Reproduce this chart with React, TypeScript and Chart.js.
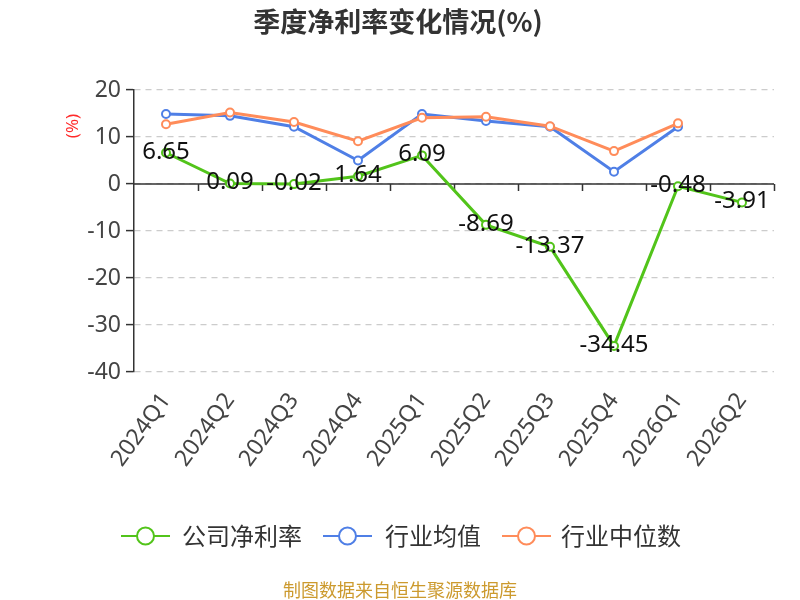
import React, { useEffect, useRef } from 'react';
import { Chart, registerables } from 'chart.js';

Chart.register(...registerables);

const categories = ['2024Q1', '2024Q2', '2024Q3', '2024Q4', '2025Q1', '2025Q2', '2025Q3', '2025Q4', '2026Q1', '2026Q2'];
const companyNetMargin = [6.65, 0.09, -0.02, 1.64, 6.09, -8.69, -13.37, -34.45, -0.48, -3.91];
const industryAverage = [14.9, 14.5, 12.2, 5.0, 14.9, 13.4, 12.2, 2.6, 12.2, null];
const industryMedian = [12.7, 15.2, 13.2, 9.1, 14.1, 14.3, 12.3, 7.0, 12.9, null];
const seriesNames = ['公司净利率', '行业均值', '行业中位数'];
const seriesColors = ['#52c41a', '#4f7fe6', '#ff8c5a'];
const titleText = '季度净利率变化情况(%)';
const footerText = '制图数据来自恒生聚源数据库';
const yUnit = '(%)';

const FONT = "'Noto Sans', 'Noto Sans CJK SC', sans-serif";
const CJK = "'Noto Sans CJK SC', 'Noto Sans', sans-serif";

const overlay = {
  id: 'overlay',
  beforeDatasetsDraw(chart: any) {
    const { ctx, chartArea, scales } = chart;
    const y0 = scales.y.getPixelForValue(0);
    ctx.save();
    ctx.strokeStyle = '#333';
    ctx.lineWidth = 1.5;
    ctx.beginPath();
    ctx.moveTo(chartArea.left, y0);
    ctx.lineTo(chartArea.right, y0);
    const n = categories.length;
    const step = (chartArea.right - chartArea.left) / n;
    for (let i = 1; i <= n; i++) {
      const x = Math.round(chartArea.left + step * i) + 0.5;
      ctx.moveTo(x, y0);
      ctx.lineTo(x, y0 + 7);
    }
    ctx.stroke();
    ctx.restore();
  },
  afterDatasetsDraw(chart: any) {
    const { ctx } = chart;
    const meta = chart.getDatasetMeta(0);
    ctx.save();
    ctx.font = `24px ${FONT}`;
    ctx.fillStyle = '#111';
    ctx.textBaseline = 'middle';
    ctx.textAlign = 'center';
    meta.data.forEach((pt: any, i: number) => {
      const label = companyNetMargin[i].toFixed(2);
      ctx.fillText(label, pt.x, pt.y - 1);
    });
    ctx.restore();
  },
  afterDraw(chart: any) {
    const { ctx } = chart;
    ctx.save();
    // title
    ctx.font = `bold 27px ${CJK}`;
    ctx.fillStyle = '#333';
    ctx.textAlign = 'center';
    ctx.textBaseline = 'middle';
    ctx.fillText(titleText, 398, 22);
    // y unit
    ctx.save();
    ctx.translate(73, 126);
    ctx.rotate(-Math.PI / 2);
    ctx.font = `17px ${FONT}`;
    ctx.fillStyle = '#ff2a2a';
    ctx.fillText(yUnit, 0, 0);
    ctx.restore();
    // legend
    const items = [
      { x: 121, tx: 182 },
      { x: 323, tx: 385 },
      { x: 502, tx: 561 },
    ];
    const ly = 536;
    items.forEach((it, i) => {
      ctx.strokeStyle = seriesColors[i];
      ctx.lineWidth = 2;
      ctx.beginPath();
      ctx.moveTo(it.x, ly);
      ctx.lineTo(it.x + 49, ly);
      ctx.stroke();
      ctx.beginPath();
      ctx.arc(it.x + 24.5, ly, 8.5, 0, Math.PI * 2);
      ctx.fillStyle = '#fff';
      ctx.fill();
      ctx.stroke();
      ctx.font = `24px ${CJK}`;
      ctx.fillStyle = '#333';
      ctx.textAlign = 'left';
      ctx.textBaseline = 'middle';
      ctx.fillText(seriesNames[i], it.tx, ly);
    });
    // footer
    ctx.font = `18px ${CJK}`;
    ctx.fillStyle = '#cc9a2e';
    ctx.textAlign = 'center';
    ctx.textBaseline = 'middle';
    ctx.fillText(footerText, 400, 590);
    ctx.restore();
  },
};

export default function App() {
  const ref = useRef<HTMLCanvasElement | null>(null);
  useEffect(() => {
    document.body.style.margin = '0';
    const canvas = ref.current;
    if (!canvas) return;
    const mk = (data: any[], i: number, order: number) => ({
      label: seriesNames[i],
      data,
      borderColor: seriesColors[i],
      backgroundColor: '#fff',
      pointBackgroundColor: '#fff',
      pointBorderColor: seriesColors[i],
      pointBorderWidth: 2,
      pointRadius: 4,
      borderWidth: 3,
      tension: 0,
      order,
      spanGaps: false,
    });
    const chart = new Chart(canvas, {
      type: 'line',
      data: {
        labels: categories,
        datasets: [mk(companyNetMargin, 0, 0), mk(industryAverage, 1, 2), mk(industryMedian, 2, 1)],
      },
      options: {
        responsive: false,
        animation: false,
        devicePixelRatio: 1,
        layout: { padding: { top: 90, left: 0, right: 26, bottom: 128 } },
        plugins: { legend: { display: false }, title: { display: false }, tooltip: { enabled: false } },
        scales: {
          x: {
            offset: true,
            grid: { display: false, drawTicks: false },
            border: { display: false },
            ticks: {
              maxRotation: 54,
              minRotation: 54,
              autoSkip: false,
              padding: 16,
              color: '#444',
              font: { family: FONT, size: 23 },
            },
            afterFit: (s: any) => { s.height = 100; },
          },
          y: {
            min: -40,
            max: 20,
            ticks: { stepSize: 10, color: '#444', padding: 5, font: { family: FONT, size: 23 } },
            grid: { color: '#cccccc', lineWidth: 1.2, tickLength: 8, tickColor: '#333', tickWidth: 1.5, tickBorderDash: [] },
            border: { display: true, color: '#333', width: 1.5, dash: [6, 5] },
            afterFit: (s: any) => { s.width = 134; },
          },
        },
      },
      plugins: [overlay],
    } as any);
    return () => chart.destroy();
  }, []);
  return (
    <div style={{ width: 800, height: 600 }}>
      <canvas ref={ref} width={800} height={600} style={{ display: 'block' }} />
    </div>
  );
}
